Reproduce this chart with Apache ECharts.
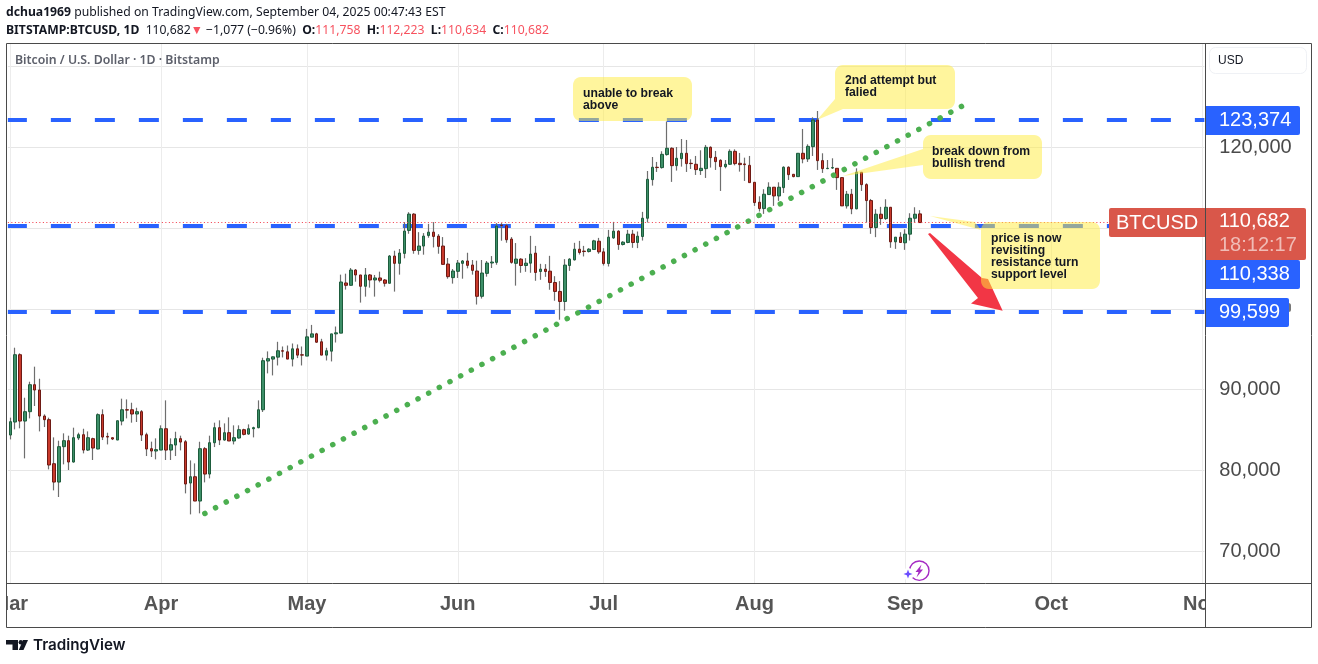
<!DOCTYPE html>
<html><head><meta charset="utf-8">
<script src="https://cdn.jsdelivr.net/npm/echarts@6/dist/echarts.min.js"></script>
<style>html,body{margin:0;padding:0;background:#fff}#c{width:1318px;height:664px}</style>
</head><body><div id="c"></div>
<script>
const opens=[84390,86000,94330,86120,87280,90620,89960,86740,86290,80840,
78570,82950,83690,81050,84020,84430,82530,83940,82660,86910,
84220,84060,83770,86120,87520,87520,86990,87280,84430,82700,
82410,82530,85170,82530,83150,83940,83560,78450,79230,76220,
82700,79560,83440,85300,83770,84680,83650,84020,85050,84510,
85170,85300,87520,93550,93790,94030,94820,94690,93790,95060,
94320,94160,96500,96910,95930,94280,94770,96910,97000,103210,
102920,104810,104200,102800,104200,103580,103830,103580,103170,106540,
105640,106870,109710,111730,107240,107780,109090,109500,109010,107780,
105550,103870,104650,105640,105930,105430,104690,101560,104400,105680,
105760,110370,110290,108640,105640,106160,105370,105660,106900,104630,
104920,104670,103270,102160,100920,105370,106070,107390,107150,107100,
107350,108380,107060,105620,108790,109620,107970,108220,109250,108220,
108960,111220,116000,117530,117490,119100,119880,117730,118600,119260,
118020,117900,117120,117360,120000,118760,118390,117610,117900,119500,
118020,117940,117770,115670,113200,112420,114150,115060,113980,115010,
117530,116660,116370,119260,118560,120080,123380,118350,117360,117440,
117400,116250,112750,114190,112380,116910,115380,113410,110070,111720,
111180,112580,108300,108880,108180,109250,111220,111758];
const closes=[86040,94330,86120,87280,90620,89960,86740,86290,80680,78570,
82950,83690,81050,84060,84430,82530,84060,82780,86910,84140,
84140,83900,86160,87520,87480,86990,87280,84390,82660,82410,
82580,85170,82530,83190,83940,83520,78330,79230,76220,82700,
79560,83440,85300,83770,84680,83650,84060,85050,84470,85170,
85300,87520,93590,93840,94070,94820,94770,93790,95060,94280,
94280,96540,96910,95880,94280,94820,96910,97040,103330,102920,
104810,104200,102800,104200,103580,103830,103540,103170,106540,105640,
106910,109630,111730,107240,107780,109010,109500,108970,107740,105510,
103990,104690,105680,105930,105390,104770,101560,104440,105680,105800,
110250,110330,108560,105760,106170,105370,105660,106780,104510,104920,
104630,103270,102160,100920,105420,106160,107390,106980,107100,107390,
108420,107060,105620,108880,109620,107970,108260,109250,108220,109000,
111220,116040,117530,117490,119130,119880,117730,118640,119260,117980,
117980,117240,117400,120000,118720,118230,117610,117900,119500,117980,
117860,117860,115630,113160,112420,114190,115060,113980,115060,117530,
116620,116370,119260,118560,120120,123380,118350,117360,117400,117490,
116250,112750,114190,112380,116910,115380,113410,110070,111720,111180,
112580,108300,108880,108220,109250,111220,111720,110682];
const lows=[83850,85090,85220,81500,86450,87980,84840,85380,80140,77540,
76720,80760,80060,80970,83770,82120,82410,81300,82620,83770,
83230,83770,83770,85590,86450,85920,86000,83650,81790,81670,
81380,82530,81300,81300,81790,82490,77170,74570,76220,74700,
78530,79030,82900,83150,83690,83650,83230,83940,84350,84430,
84100,85220,87240,92020,91770,93000,93990,93790,92880,93910,
93000,94160,96500,95800,94280,93620,93500,95840,97000,102390,
102880,103370,100780,101520,102630,101520,103290,102760,103170,102140,
104240,106260,109300,106830,106710,106710,108810,107610,106830,105510,
103740,103130,103830,103740,105020,104240,100540,101280,103990,105060,
105470,108440,108190,105600,102880,104470,104590,104470,103480,103600,
103970,102370,101010,98660,99770,104710,105990,106730,106490,106980,
107310,106820,105370,105250,108670,107310,107850,108130,107560,107520,
108460,110690,115260,116950,117360,118970,115720,117120,117610,116950,
117320,116580,116580,116210,117490,117200,114600,117400,117820,117770,
116990,115840,115630,112750,112050,111760,114110,112750,113370,114350,
115960,116290,116330,118020,118190,118930,117200,116830,117300,117320,
114730,112750,112420,111720,112340,114600,110690,109290,108880,110400,
111020,107560,107430,108220,107310,108460,110690,110634];
const highs=[86540,95200,94500,89010,90990,92850,91360,86950,86540,84100,
83690,84600,84310,85300,84680,85170,84840,84060,87070,87570,
84680,84060,86160,88890,88800,88390,87770,87480,84680,83570,
83980,85590,88680,83980,84800,84310,83770,81250,80880,83560,
82900,84310,85920,86210,85830,86580,85590,85590,85170,85710,
85420,88680,93960,94740,94100,95930,95350,95470,95720,95600,
95350,97530,98020,97040,96300,95190,96910,97820,104240,104360,
105060,104940,104200,105060,104320,104200,104610,103700,106670,107200,
107410,110740,111970,111850,109500,109380,110530,110740,109260,108890,
106300,104940,106050,106050,106950,106050,105970,106050,105930,106540,
110620,110620,110530,108890,108150,106280,106280,109040,107800,105580,
105540,106570,104050,103440,106160,106280,108180,108420,107800,107520,
108550,108790,107520,109780,110770,109740,108380,109780,109780,109580,
112010,117070,118800,118190,119510,123200,120000,120040,121030,120910,
118520,118930,119630,120290,120120,119550,118520,118430,119750,119750,
119300,118720,118930,115670,113940,114810,115670,115060,115670,117650,
117650,116660,119260,122270,120370,123710,124490,119260,118430,118640,
117400,116290,114600,114850,117400,116910,115550,113610,112340,112630,
113570,112580,108880,109490,109860,111840,112580,112223];
const monthIndex=[0,31,61,92,122,153,184,214,245];
const monthNames=['Mar','Apr','May','Jun','Jul','Aug','Sep','Oct','Nov'];
const priceTicks=[70000,80000,90000,100000,110000,120000,130000];
const priceLabels=[70000,80000,90000,120000];
const levels=[123374,110338,99599];
const lastPrice=110682;
const trendIndex=[40,197];
const trendPrice=[74680,125520];

const dayCount=246;
const categories=[];
for(let i=0;i<dayCount;i++){categories.push(new Date(Date.UTC(2025,2,1+i)).toISOString().slice(0,10));}
const isMonth=(i)=>monthIndex.indexOf(i)>=0;
const fmt=(v)=>v.toLocaleString('en-US');

const wicks=opens.map((o,i)=>[o,closes[i],lows[i],highs[i]]);
const bodies=opens.map((o,i)=>[o,closes[i],Math.min(o,closes[i]),Math.max(o,closes[i])]);

const BLUE='#2962ff',TAG='#d9574a',FONT='"Liberation Sans",Arial,sans-serif',UI='"Noto Sans",sans-serif';
const YEL='rgba(255,235,59,0.5)';
function txt(x,y,text,size,color,extra){return Object.assign({type:'text',z:40,silent:true,style:{x,y,text,fontSize:size,fill:color,fontFamily:FONT,verticalAlign:'middle',align:'left'}},extra||{});}
function box(x,y,w,h,fill,r,z){return {type:'rect',z:z||30,silent:true,shape:{x,y,width:w,height:h,r:r||0},style:{fill}};}
function line(x1,y1,x2,y2){return {type:'line',z:35,silent:true,shape:{x1,y1,x2,y2},style:{stroke:'#4a4a4a',lineWidth:1}};}
function note(x0,y0,x1,y1,tailLeft){
  const r=8,pts=[];
  const arc=(cx,cy,a0)=>{for(let k=0;k<=6;k++){const a=a0+k/6*Math.PI/2;pts.push([cx+r*Math.cos(a),cy+r*Math.sin(a)]);}};
  arc(x1-r,y0+r,-Math.PI/2);
  arc(x1-r,y1-r,0);
  arc(x0+r,y1-r,Math.PI/2);
  if(tailLeft){tailLeft.forEach(p=>pts.push(p));}
  arc(x0+r,y0+r,Math.PI);
  return {type:'polygon',z:20,silent:true,shape:{points:pts},style:{fill:YEL}};
}
function noteText(x,y,t){return {type:'text',z:25,silent:true,style:{x,y,text:t,fontSize:12.2,fontWeight:'bold',lineHeight:12,fill:'#131722',fontFamily:FONT,verticalAlign:'middle',align:'left'}};}

const graphics=[
 box(0,584,6.5,44,'#ffffff',0,30),
 box(1205.5,584,106,43,'#ffffff',0,30),
 line(6.5,43.5,1311.5,43.5),line(6.5,627.5,1311.5,627.5),line(6.5,43.5,6.5,627.5),line(1311.5,43.5,1311.5,627.5),
 line(1205.5,43.5,1205.5,627.5),line(6.5,583.5,1311.5,583.5),
 {type:'text',z:40,silent:true,style:{x:6,y:12.5,verticalAlign:'middle',fontFamily:UI,fontSize:12.2,fill:'#131722',
   text:'{b|dchua1969} published on TradingView.com, September 04, 2025 00:47:43 EST',rich:{b:{fontWeight:'bold',fontFamily:UI,fontSize:12.2,fill:'#131722'}}}},
 {type:'text',z:40,silent:true,style:{x:6,y:30.5,verticalAlign:'middle',fontFamily:UI,fontSize:12.2,fill:'#131722',
   text:'{b|BITSTAMP:BTCUSD, 1D}  110,682{r|▼} −1,077 (−0.96%)  {b|O:}{r|111,758}  {b|H:}{r|112,223}  {b|L:}{r|110,634}  {b|C:}{r|110,682}',
   rich:{b:{fontWeight:'bold',fontFamily:UI,fontSize:12.2,fill:'#131722'},r:{fontFamily:UI,fontSize:12.2,fill:'#f7525f'}}}},
 {type:'text',z:40,silent:true,style:{x:15,y:60.5,verticalAlign:'middle',fontFamily:UI,fontSize:12.3,fontWeight:600,fill:'#5d606b',text:'Bitcoin / U.S. Dollar · 1D · Bitstamp'}},
 {type:'polygon',z:15,silent:true,shape:{points:[[928,234],[930,233],[982,278],[988,279],[1002.7,310.7],[971,303.5],[978,298]]},style:{fill:'#f23645'}},
 note(573,77,692,121),
 noteText(583,100,'unable to break\nabove'),
 note(835,65,955,109,[[843,109],[817,120],[835,99]]),
 noteText(845,87,'2nd attempt but\nfalied'),
 note(923,135,1042,179,[[923,165],[843,176],[923,149]]),
 noteText(932,158,'break down from\nbullish trend'),
 note(981,222,1100,289,[[981,230],[930,216],[975,222]]),
 noteText(991,257,'price is now\nrevisiting\nresistance turn\nsupport level'),
 {type:'rect',z:40,silent:true,shape:{x:1209.5,y:47.5,width:97,height:26,r:6},style:{fill:'#fff',stroke:'#eff1f5',lineWidth:1}},
 txt(1218,60.5,'USD',12,'#131722'),
 box(1206,106,94,29,BLUE,[0,2,2,0]),txt(1219,120.5,fmt(levels[0]),20,'#ffffff'),
 box(1109,208,97,29,TAG,[2,0,0,2]),txt(1116,223,'BTCUSD',20,'#ffffff'),
 box(1206,208,100,52,TAG,[0,2,2,0]),txt(1219,221.5,fmt(lastPrice),20,'#ffffff'),txt(1219,245,'18:12:17',20,'rgba(255,255,255,0.6)'),
 box(1206,260,94,29,BLUE,[0,2,2,0]),txt(1219,274,fmt(levels[1]),20,'#ffffff'),
 box(1286,303,5,9,'#777777',3,29),
 box(1206,298,83,29,BLUE,[0,2,2,0]),txt(1219,312,fmt(levels[2]),20,'#ffffff'),
 {type:'circle',z:20,silent:true,shape:{cx:919.3,cy:570.7,r:9.7},style:{fill:'#fff',stroke:'#a52bc4',lineWidth:1.4}},
 {type:'polygon',z:21,silent:true,shape:{points:[[921.5,564.5],[915.5,572],[918.5,572],[916.5,577.5],[923,569.5],[920,569.5]]},style:{fill:'#a52bc4'}},
 {type:'circle',z:21,silent:true,shape:{cx:908,cy:574,r:6},style:{fill:'#fff'}},
 {type:'polygon',z:22,silent:true,shape:{points:[[908,569.5],[909.2,572.8],[912.5,574],[909.2,575.2],[908,578.5],[906.8,575.2],[903.5,574],[906.8,572.8]]},style:{fill:'#6b4dff'}},
 {type:'polygon',z:40,silent:true,shape:{points:[[6,640],[18,640],[18,650],[12.5,650],[12.5,644.5],[6,644.5]]},style:{fill:'#131722'}},
 {type:'polygon',z:40,silent:true,shape:{points:[[23,640],[28,640],[23.5,650],[18.8,650]]},style:{fill:'#131722'}},
 {type:'circle',z:40,silent:true,shape:{cx:20.8,cy:642.2,r:2.2},style:{fill:'#131722'}},
 {type:'text',z:40,silent:true,style:{x:33,y:645.5,verticalAlign:'middle',text:'TradingView',fontFamily:'Inter,sans-serif',fontSize:15.2,fontWeight:600,fill:'#131722'}}
];

const chart=echarts.init(document.getElementById('c'),null,{renderer:'canvas'});
chart.setOption({
 animation:false,
 backgroundColor:'#ffffff',
 grid:{left:7.87,top:44,width:1196.5,height:539,containLabel:false,outerBoundsMode:'none'},
 xAxis:{type:'category',data:categories,boundaryGap:true,
   axisLine:{show:false},
   axisTick:{show:false,alignWithLabel:true,interval:(i)=>isMonth(i)},
   splitLine:{show:true,alignWithLabel:true,interval:(i)=>isMonth(i),lineStyle:{color:'#ececec',width:1}},
   axisLabel:{interval:(i)=>isMonth(i),formatter:(v,i)=>monthNames[monthIndex.indexOf(i)]||'',margin:11,fontSize:20,fontWeight:'bold',fontFamily:FONT,color:'#555555',hideOverlap:false,showMinLabel:true,showMaxLabel:true}},
 yAxis:{type:'value',position:'right',min:66077,max:132785,
   axisLine:{show:false},
   axisTick:{show:false,customValues:priceTicks},
   splitLine:{show:true,lineStyle:{color:'#e6e6e6',width:1}},
   axisLabel:{customValues:priceLabels,formatter:(v)=>fmt(v),margin:15,fontSize:20,fontFamily:FONT,color:'#4a4a4a'}},
 series:[
  {name:'levels',type:'line',data:[],z:1,silent:true,
   markLine:{z:1,silent:true,animation:false,symbol:['none','none'],label:{show:false},
     lineStyle:{color:BLUE,width:4,type:[20,24],dashOffset:1,cap:'butt'},emphasis:{disabled:true},
     data:levels.map(v=>({yAxis:v}))}},
  {name:'last',type:'line',data:[],z:6,silent:true,
   markLine:{z:6,silent:true,animation:false,symbol:['none','none'],label:{show:false},
     lineStyle:{color:'#f23645',width:1,type:[1,2.5]},emphasis:{disabled:true},
     data:[{yAxis:lastPrice}]}},
  {name:'wick',type:'candlestick',data:wicks,z:2,barWidth:1,silent:true,
   itemStyle:{color:'#6e6e6e',color0:'#6e6e6e',borderColor:'#6e6e6e',borderColor0:'#6e6e6e',borderColorDoji:'#6e6e6e',borderWidth:1.2}},
  {name:'body',type:'candlestick',data:bodies,z:3,barWidth:3,silent:true,
   itemStyle:{color:'#3d8f68',color0:'#c8392b',borderColor:'#1d5c3c',borderColor0:'#6e1a14',borderColorDoji:'#6e1a14',borderWidth:1}},
  {name:'trend',type:'line',data:trendIndex.map((x,i)=>[x,trendPrice[i]]),z:4,silent:true,showSymbol:false,symbol:'none',clip:false,
   lineStyle:{color:'#4caf50',width:5.5,type:[0.1,12],cap:'round'}}
 ],
 graphic:graphics
});
</script></body></html>
